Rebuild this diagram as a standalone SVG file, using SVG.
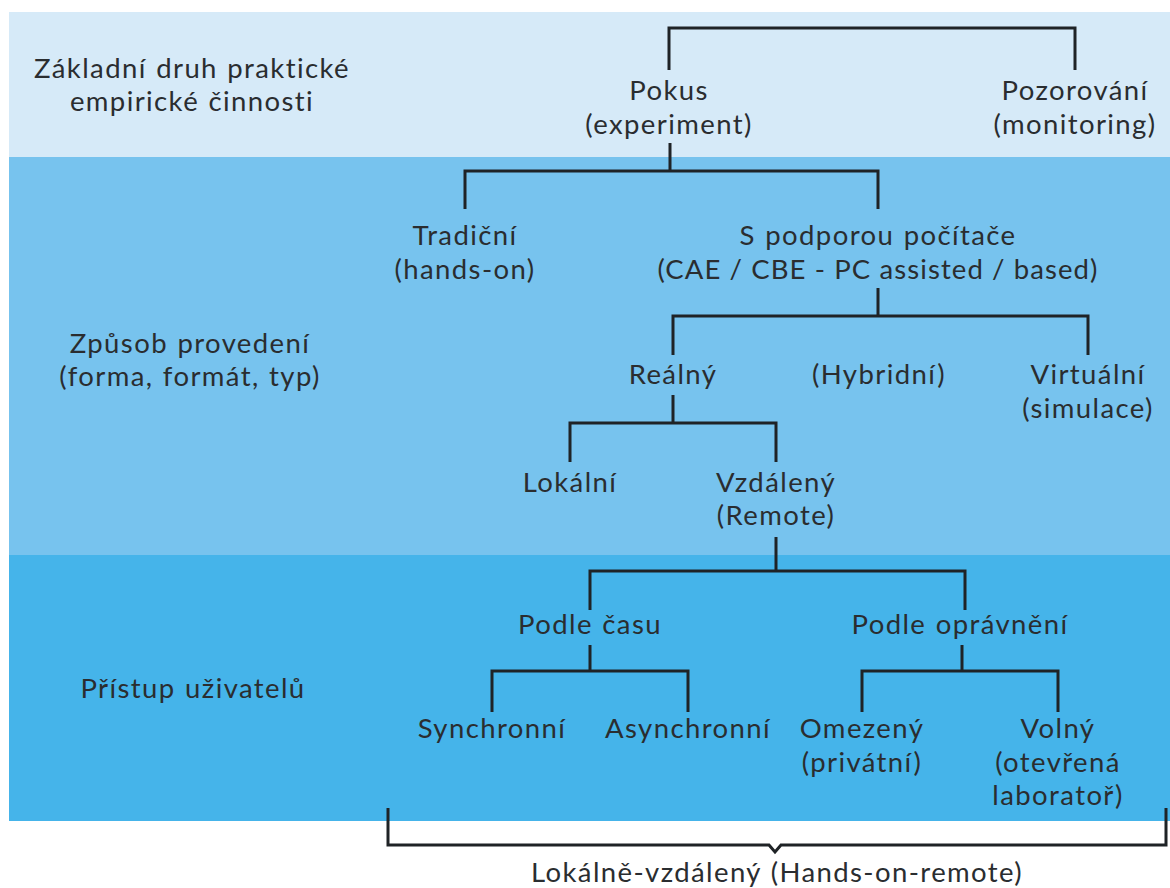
<svg xmlns="http://www.w3.org/2000/svg" width="1170" height="888" viewBox="0 0 1170 888">
  <style>
    text { font-family: Lato, "Noto Sans", sans-serif; font-size: 27.5px; letter-spacing: 1.4px; word-spacing: 1px; fill: #2a2d30; text-anchor: middle; }
    .tight { letter-spacing: 1.1px; word-spacing: 0; }
    .wire { fill: none; stroke: #1f2326; stroke-width: 3; }
  </style>
  <rect width="1170" height="888" fill="#ffffff"/>
  <!-- level bands -->
  <g id="bands">
    <rect x="9" y="12" width="1161" height="145" fill="#d6eaf8"/>
    <rect x="9" y="157" width="1161" height="398" fill="#77c3ee"/>
    <rect x="9" y="555" width="1161" height="266" fill="#45b4ea"/>
  </g>
  <!-- level captions -->
  <g id="captions">
    <text x="192" y="78">Základní druh praktické</text>
    <text x="192" y="111">empirické činnosti</text>
    <text x="190" y="353">Způsob provedení</text>
    <text x="190" y="386">(forma, formát, typ)</text>
    <text x="193" y="698">Přístup uživatelů</text>
  </g>
  <!-- tree connectors -->
  <g id="connectors" class="wire">
    <path d="M669 70 V28 H1075 V70"/>
    <path d="M670 143 V171 M465 209 V171 H878 V209"/>
    <path d="M878 288 V316 M673 355 V316 H1088 V355"/>
    <path d="M673 395 V423 M570 462 V423 H776 V462"/>
    <path d="M776 537 V571 M590 610 V571 H965 V610"/>
    <path d="M590 645 V671 M492 712 V671 H688 V712"/>
    <path d="M962 645 V671 M862 712 V671 H1058 V712"/>
    <path d="M388 808 V845 H769 L775 852 L781 845 H1166 V808"/>
  </g>
  <g id="pokus"><text x="669" y="100">Pokus</text><text x="669" y="134">(experiment)</text></g>
  <g id="pozorovani"><text x="1075" y="100">Pozorování</text><text x="1075" y="134">(monitoring)</text></g>
  <g id="tradicni"><text x="465" y="245">Tradiční</text><text x="465" y="279">(hands-on)</text></g>
  <g id="pocitac"><text x="878" y="245">S podporou počítače</text><text class="tight" x="878" y="279">(CAE / CBE - PC assisted / based)</text></g>
  <g id="realny"><text x="673" y="384">Reálný</text></g>
  <g id="hybridni"><text x="879" y="384">(Hybridní)</text></g>
  <g id="virtualni"><text x="1088" y="384">Virtuální</text><text x="1088" y="418">(simulace)</text></g>
  <g id="lokalni"><text x="570" y="492">Lokální</text></g>
  <g id="vzdaleny"><text x="776" y="492">Vzdálený</text><text x="776" y="525">(Remote)</text></g>
  <g id="podle-casu"><text x="590" y="634">Podle času</text></g>
  <g id="podle-opravneni"><text x="960" y="634">Podle oprávnění</text></g>
  <g id="synchronni"><text x="492" y="738">Synchronní</text></g>
  <g id="asynchronni"><text x="688" y="738">Asynchronní</text></g>
  <g id="omezeny"><text x="862" y="738">Omezený</text><text x="862" y="772">(privátní)</text></g>
  <g id="volny"><text x="1058" y="738">Volný</text><text x="1058" y="772">(otevřená</text><text x="1058" y="805">laboratoř)</text></g>
  <g id="lokalne-vzdaleny"><text x="777" y="882">Lokálně-vzdálený (Hands-on-remote)</text></g>
</svg>
